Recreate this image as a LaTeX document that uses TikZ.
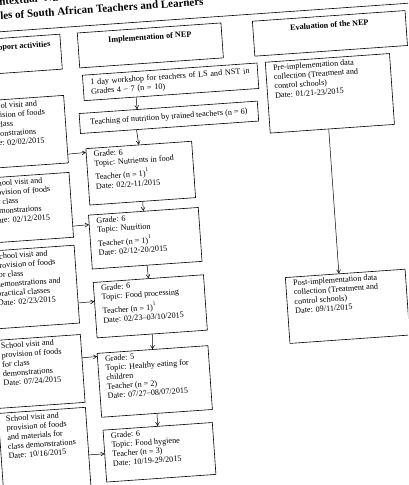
\documentclass[tikz,border=0pt]{standalone}
\usepackage{fontspec}
\setmainfont{Liberation Serif}
\usetikzlibrary{arrows,calc}
\tikzstyle{box} = [draw, line width=0.6pt, anchor=north west, inner xsep=7.5pt, inner ysep=3pt, font=\fontsize{8.2}{9.3}\selectfont]
\tikzstyle{headbox} = [box, inner ysep=6pt, font=\bfseries\fontsize{8.2}{9.3}\selectfont]
\tikzstyle{title} = [anchor=base west, inner sep=0pt, font=\bfseries\fontsize{11}{13}\selectfont]
\tikzstyle{arrow} = [->, >=angle 60, line width=0.5pt]
\tikzstyle{rule} = [line width=0.6pt]
\newcommand{\boxtext}[3]{\parbox[t][#2][t]{#1}{\raggedright #3}}
\newcommand{\headtext}[3]{\parbox[t][#2][t]{#1}{\centering #3}}
\newcommand{\supone}{\raisebox{4.5pt}{\fontsize{5.5}{6}\selectfont 1}}

\begin{document}
\begin{tikzpicture}
    \useasboundingbox (0,0) rectangle (408pt,-485pt);
    \clip (0,0) rectangle (408pt,-485pt);
    \begin{scope}[x=1pt, y=-1pt, rotate=4, transform shape]
        % title and rule
        \node (title1) [title] at (-1,5) {ntextual ‘Nutrition};
        \node (title2) [title] at (-1,19.5) {les of South African Teachers and Learners};
        \draw [rule] (-10,31.7) -- (420,31.7);
        % column heads
        \node (support) [headbox] at (-25,38) {\headtext{67pt}{23pt}{Support activities}};
        \node (impl) [headbox] at (74.5,38) {\headtext{129pt}{23pt}{Implementation of NEP}};
        \node (eval) [headbox] at (250,38.5) {\headtext{138pt}{23pt}{Evaluation of the NEP}};
        % implementation column
        \node (workshop) [box, text width=160pt, align=left, minimum height=25.5pt] at (76.7,80.5) {1 day workshop for teachers of LS and NST in\\ Grades 4 -- 7 (n = 10)};
        \node (teaching) [box, minimum width=178.6pt, minimum height=20pt] at (70.7,118.5) {Teaching of nutrition by trained teachers (n = 6)};
        \node (nutrients) [box] at (75,154) {\boxtext{91pt}{50.5pt}{Grade: 6\\ Topic: Nutrients in food\\[3pt] Teacher (n = 1)\supone\\ Date: 02/2-11/2015}};
        \node (nutrition) [box] at (73,220.5) {\boxtext{95pt}{48pt}{Grade: 6\\ Topic: Nutrition\\[3pt] Teacher (n = 1)\supone\\ Date: 02/12-20/2015}};
        \node (processing) [box] at (73,288) {\boxtext{95.5pt}{49.5pt}{Grade: 6\\ Topic: Food processing\\[3pt] Teacher (n = 1)\supone\\ Date: 02/23--03/10/2015}};
        \node (healthy) [box] at (72,359) {\boxtext{96pt}{58pt}{Grade: 5\\ Topic: Healthy eating for\\ children\\ Teacher (n = 2)\\ Date: 07/27--08/07/2015}};
        \node (hygiene) [box] at (72.5,436) {\boxtext{94.5pt}{46pt}{Grade: 6\\ Topic: Food hygiene\\ Teacher (n = 3)\\ Date: 10/19-29/2015}};
        % support column
        \node (visit1) [box] at (-31,99.3) {\boxtext{72.5pt}{61.7pt}{School visit and\\ provision of foods\\ for class\\ demonstrations\\ Date: 02/02/2015}};
        \node (visit2) [box] at (-31,176.5) {\boxtext{72.5pt}{59pt}{School visit and\\ provision of foods\\ for class\\ demonstrations\\ Date: 02/12/2015}};
        \node (visit3) [box] at (-31,249.5) {\boxtext{72.5pt}{72pt}{School visit and\\ provision of foods\\ for class\\ demonstrations and\\ practical classes\\ Date: 02/23/2015}};
        \node (visit4) [box] at (-31,339) {\boxtext{72.5pt}{62pt}{School visit and\\ provision of foods\\ for class\\ demonstrations\\ Date: 07/24/2015}};
        \node (visit5) [box] at (-31,412) {\boxtext{72.5pt}{84pt}{School visit and\\ provision of foods\\ and materials for\\ class demonstrations\\ Date: 10/16/2015}};
        % evaluation column
        \node (pre) [box] at (260,80.3) {\boxtext{109.5pt}{65pt}{Pre-implementation data\\ collection (Treatment and\\ control schools)\\ Date: 01/21-23/2015}};
        \node (post) [box] at (265,296.5) {\boxtext{105pt}{60pt}{Post-implementation data\\ collection (Treatment and\\ control schools)\\ Date: 09/11/2015}};
        % arrows
        \draw [arrow] ($(workshop.south west)!0.298!(workshop.south east)$) -- ($(teaching.north west)!0.326!(teaching.north east)$);
        \draw [arrow] ($(teaching.south west)!0.315!(teaching.south east)$) -- (nutrients.north);
        \draw [arrow] (nutrients.south) -- (nutrition.north);
        \draw [arrow] (nutrition.south) -- (processing.north);
        \draw [arrow] (processing.south) -- (healthy.north);
        \draw [arrow] (healthy.south) -- (hygiene.north);
        \draw [arrow] ($(visit1.north east)!0.867!(visit1.south east)$) -- ($(nutrients.north west)!0.071!(nutrients.south west)$);
        \draw [arrow] ($(visit2.north east)!0.826!(visit2.south east)$) -- ($(nutrition.north west)!0.18!(nutrition.south west)$);
        \draw [arrow] ($(visit3.north east)!0.74!(visit3.south east)$) -- ($(processing.north west)!0.346!(processing.south west)$);
        \draw [arrow] ($(visit4.north east)!0.344!(visit4.south east)$) -- ($(healthy.north west)!0.053!(healthy.south west)$);
        \draw [arrow] ($(visit5.north east)!0.53!(visit5.south east)$) -- ($(hygiene.north west)!0.456!(hygiene.south west)$);
        \draw [arrow] ($(pre.south west)!0.471!(pre.south east)$) -- ($(post.north west)!0.4475!(post.north east)$);
    \end{scope}
\end{tikzpicture}
\end{document}
